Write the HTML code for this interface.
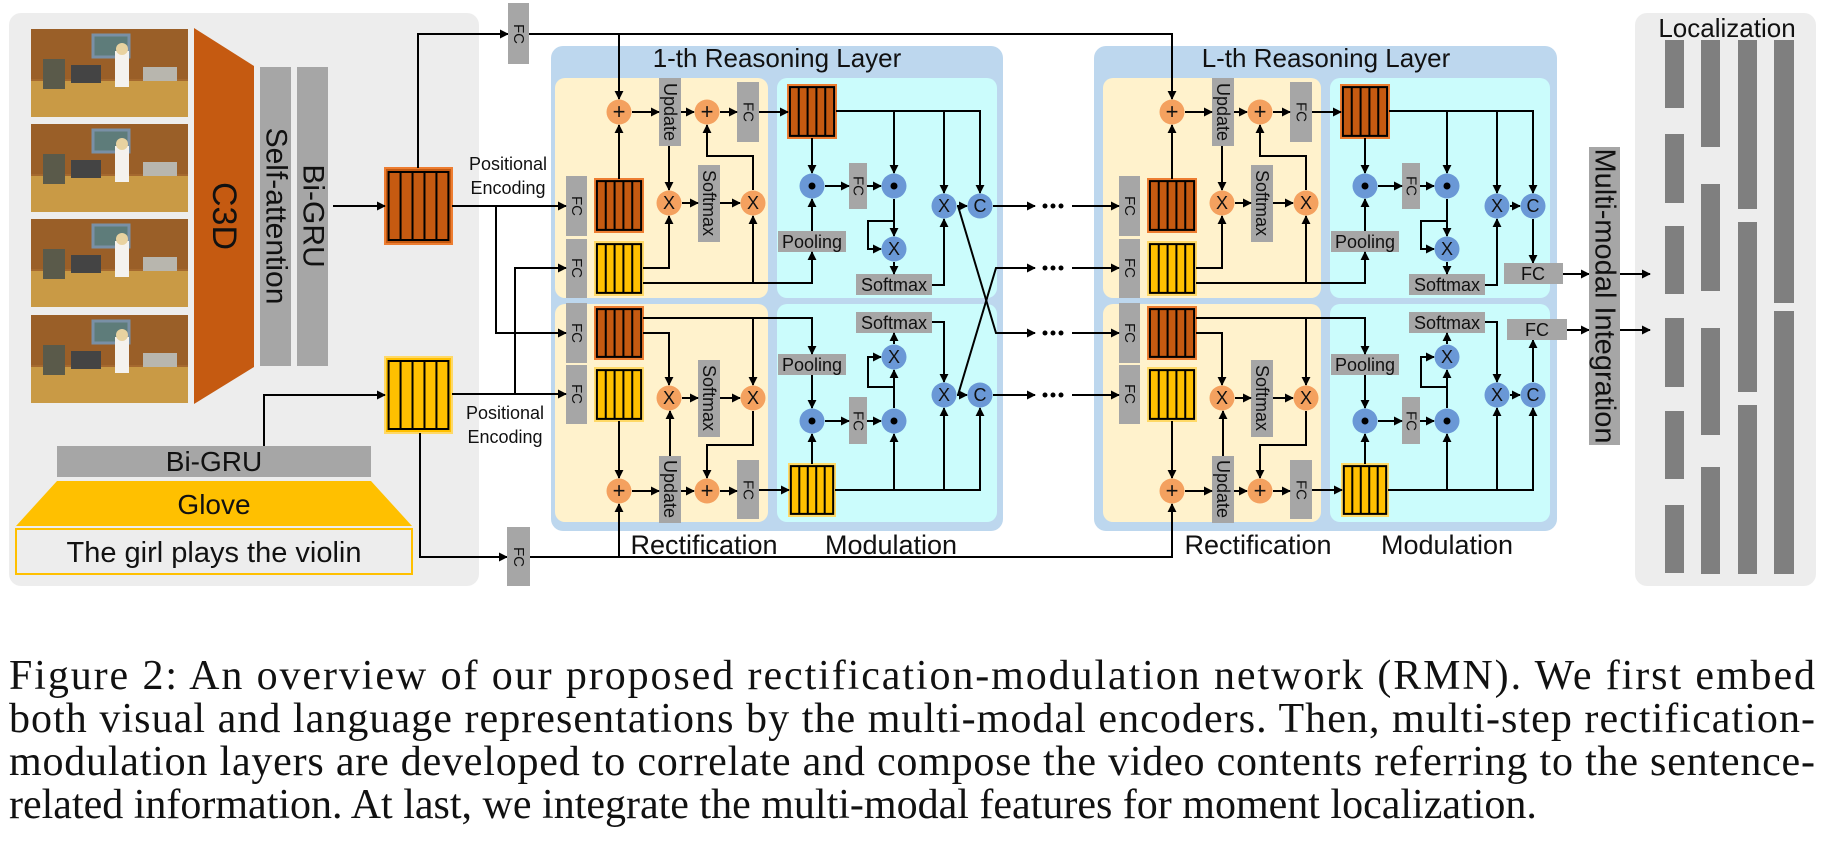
<!DOCTYPE html>
<html><head><meta charset="utf-8"><style>
html,body{margin:0;padding:0;background:#fff;}
svg{display:block;}
text{font-family:"Liberation Sans",sans-serif;fill:#111;}
.s{font-size:18px;}
.f{font-size:15px;}
.cap{font-family:"Liberation Serif",serif;font-size:42px;}
</style></head><body>
<svg width="1830" height="860" viewBox="0 0 1830 860" xmlns="http://www.w3.org/2000/svg">
<defs>
<marker id="a" viewBox="0 0 10 10" refX="9" refY="5" markerWidth="9" markerHeight="9" markerUnits="userSpaceOnUse" orient="auto"><path d="M0,0 L10,5 L0,10 z" fill="#000"/></marker>
<symbol id="fb" viewBox="0 0 50 50" preserveAspectRatio="none">
<rect x="2" y="2" width="46" height="46" fill="none" stroke="#000" stroke-width="2" vector-effect="non-scaling-stroke"/>
<path d="M11.2 2V48M20.4 2V48M29.6 2V48M38.8 2V48" stroke="#000" stroke-width="2" vector-effect="non-scaling-stroke"/>
</symbol>
<g id="frame">
<rect x="0" y="0" width="157" height="88" fill="#a5692f"/>
<rect x="0" y="0" width="157" height="50" fill="#9a5f28"/>
<rect x="0" y="52" width="157" height="36" fill="#c99a45"/>
<rect x="62" y="6" width="36" height="22" fill="#5e7c7a" stroke="#7990a6" stroke-width="3"/>
<rect x="12" y="30" width="22" height="30" fill="#5a5a4a"/>
<rect x="40" y="36" width="30" height="18" fill="#444"/>
<rect x="112" y="38" width="34" height="14" fill="#b8b6ae"/>
<rect x="84" y="22" width="14" height="36" fill="#f4f2ee"/>
<circle cx="91" cy="20" r="6" fill="#e8d2a0"/>
</g>
<g id="lay" fill="none" stroke="#000" stroke-width="2">
<rect x="595" y="179" width="48" height="53" fill="#c55a11" stroke="#ed7d31"/><use href="#fb" x="595" y="179" width="48" height="53"/>
<rect x="595" y="242" width="48" height="53" fill="#ffc000" stroke="#ffd966"/><use href="#fb" x="595" y="242" width="48" height="53"/>
<rect x="595" y="307" width="48" height="52" fill="#c55a11" stroke="#ed7d31"/><use href="#fb" x="595" y="307" width="48" height="52"/>
<rect x="595" y="368" width="48" height="53" fill="#ffc000" stroke="#ffd966"/><use href="#fb" x="595" y="368" width="48" height="53"/>
<rect x="788" y="85" width="48" height="53" fill="#c55a11" stroke="#ed7d31"/><use href="#fb" x="788" y="85" width="48" height="53"/>
<rect x="789" y="464" width="46" height="52" fill="#ffc000" stroke="#ffd966"/><use href="#fb" x="789" y="464" width="46" height="52"/>
<g fill="#a6a6a6" stroke="none">
<rect x="566" y="176" width="21" height="60"/><rect x="566" y="239" width="21" height="59"/>
<rect x="566" y="303" width="21" height="60"/><rect x="566" y="365" width="21" height="59"/>
<rect x="659" y="78" width="22" height="68"/><rect x="659" y="456" width="22" height="67"/>
<rect x="737" y="82" width="22" height="60"/><rect x="737" y="460" width="22" height="59"/>
<rect x="698" y="165" width="22" height="77"/><rect x="698" y="360" width="22" height="77"/>
<rect x="778" y="231" width="68" height="21"/><rect x="778" y="354" width="68" height="21"/>
<rect x="849" y="163" width="18" height="46"/><rect x="849" y="397" width="18" height="47"/>
<rect x="856" y="274" width="76" height="21"/><rect x="856" y="312" width="76" height="21"/>
</g>
<g marker-end="url(#a)">
<path d="M619 179V125"/><path d="M632 112H659"/><path d="M681 112H694"/><path d="M720 112H737"/><path d="M759 112H788"/>
<path d="M669 146V190"/><path d="M643 268H669V216"/><path d="M682 203H698"/><path d="M720 203H740"/>
<path d="M643 283H812V252"/><path d="M753 283V216"/><path d="M753 190V156H707V125"/>
<path d="M836 111H980V193"/><path d="M894 111V173"/><path d="M944 111V193"/>
<path d="M812 138V173"/><path d="M812 231V199"/><path d="M825 186H849"/><path d="M867 186H881"/>
<path d="M894 199V236"/><path d="M894 221H868V249H881"/><path d="M894 262V274"/><path d="M932 285H944V219"/><path d="M957 206H967"/>
<path d="M643 318H812V354"/><path d="M753 318V385"/><path d="M643 333H669V385"/>
<path d="M682 398H698"/><path d="M720 398H740"/><path d="M670 456V411"/><path d="M753 411V445H707V478"/>
<path d="M619 421V478"/><path d="M632 491H659"/><path d="M681 491H694"/><path d="M720 491H737"/><path d="M759 490H789"/>
<path d="M835 490H980V408"/><path d="M894 490V434"/><path d="M944 490V408"/>
<path d="M812 464V434"/><path d="M812 375V408"/><path d="M825 421H849"/><path d="M867 421H881"/>
<path d="M894 408V370"/><path d="M894 387H868V357H881"/><path d="M894 344V333"/><path d="M932 322H944V382"/><path d="M957 395H967"/>
</g>
<g stroke="none" fill="#f4a15f">
<circle cx="619" cy="112" r="12.5"/><circle cx="707" cy="112" r="12.5"/><circle cx="669" cy="203" r="12.5"/><circle cx="753" cy="203" r="12.5"/>
<circle cx="669" cy="398" r="12.5"/><circle cx="753" cy="398" r="12.5"/><circle cx="619" cy="491" r="12.5"/><circle cx="707" cy="491" r="12.5"/>
</g>
<g stroke="none" fill="#6a98d6">
<circle cx="812" cy="186" r="12.5"/><circle cx="894" cy="186" r="12.5"/><circle cx="894" cy="249" r="12.5"/><circle cx="944" cy="206" r="12.5"/><circle cx="980" cy="206" r="12.5"/>
<circle cx="812" cy="421" r="12.5"/><circle cx="894" cy="421" r="12.5"/><circle cx="894" cy="357" r="12.5"/><circle cx="944" cy="395" r="12.5"/><circle cx="980" cy="395" r="12.5"/>
</g>
<g stroke="none" fill="#000">
<circle cx="812" cy="186" r="3.5"/><circle cx="894" cy="186" r="3.5"/><circle cx="812" cy="421" r="3.5"/><circle cx="894" cy="421" r="3.5"/>
</g>
</g>
</defs>

<rect x="9" y="13" width="470" height="573" rx="12" fill="#ededed"/>
<use href="#frame" x="31" y="29"/><use href="#frame" x="31" y="124"/><use href="#frame" x="31" y="219"/><use href="#frame" x="31" y="315"/>
<polygon points="194,28 254,66 254,367 194,404" fill="#c55a11"/>
<rect x="260" y="67" width="31" height="299" fill="#a6a6a6"/>
<rect x="297" y="67" width="31" height="299" fill="#a6a6a6"/>
<text transform="translate(224,216) rotate(90)" text-anchor="middle" dominant-baseline="central" font-size="34">C3D</text>
<text transform="translate(276,216) rotate(90)" text-anchor="middle" dominant-baseline="central" font-size="30">Self-attention</text>
<text transform="translate(313,216) rotate(90)" text-anchor="middle" dominant-baseline="central" font-size="30">Bi-GRU</text>
<rect x="57" y="446" width="314" height="31" fill="#a6a6a6"/>
<text x="214" y="471" text-anchor="middle" font-size="28">Bi-GRU</text>
<polygon points="57,481 371,481 412,526 16,526" fill="#ffc000"/>
<text x="214" y="514" text-anchor="middle" font-size="28">Glove</text>
<rect x="16" y="529" width="396" height="45" fill="#ededed" stroke="#ffc000" stroke-width="2"/>
<text x="214" y="562" text-anchor="middle" font-size="29">The girl plays the violin</text>
<rect x="385" y="168" width="67" height="76" fill="#c55a11" stroke="#ed7d31" stroke-width="2"/><use href="#fb" x="386" y="169" width="65" height="74"/>
<rect x="385" y="357" width="67" height="76" fill="#ffc000" stroke="#ffd966" stroke-width="2"/><use href="#fb" x="386" y="358" width="65" height="74"/>

<rect x="551" y="46" width="452" height="485" rx="12" fill="#bdd7ee"/>
<rect x="555" y="78" width="213" height="220" rx="10" fill="#fff2cc"/>
<rect x="555" y="304" width="213" height="218" rx="10" fill="#fff2cc"/>
<rect x="777" y="78" width="220" height="220" rx="10" fill="#cbfcfc"/>
<rect x="777" y="304" width="220" height="218" rx="10" fill="#cbfcfc"/>
<rect x="1094" y="46" width="463" height="485" rx="12" fill="#bdd7ee"/>
<rect x="1103" y="78" width="218" height="220" rx="10" fill="#fff2cc"/>
<rect x="1103" y="304" width="218" height="218" rx="10" fill="#fff2cc"/>
<rect x="1330" y="78" width="220" height="220" rx="10" fill="#cbfcfc"/>
<rect x="1330" y="304" width="220" height="218" rx="10" fill="#cbfcfc"/>

<rect x="1635" y="13" width="181" height="573" rx="12" fill="#ededed"/>
<text x="1727" y="37" text-anchor="middle" font-size="26">Localization</text>
<g fill="#7f7f7f">
<rect x="1665" y="40" width="19" height="68"/><rect x="1665" y="134" width="19" height="69"/><rect x="1665" y="226" width="19" height="68"/><rect x="1665" y="318" width="19" height="69"/><rect x="1665" y="411" width="19" height="68"/><rect x="1665" y="505" width="19" height="68"/>
<rect x="1701" y="40" width="19" height="107"/><rect x="1701" y="184" width="19" height="107"/><rect x="1701" y="328" width="19" height="107"/><rect x="1701" y="467" width="19" height="107"/>
<rect x="1738" y="40" width="19" height="169"/><rect x="1738" y="222" width="19" height="170"/><rect x="1738" y="405" width="19" height="169"/>
<rect x="1774" y="40" width="20" height="263"/><rect x="1774" y="311" width="20" height="263"/>
</g>

<use href="#lay"/>
<use href="#lay" x="553"/>

<g fill="none" stroke="#000" stroke-width="2" marker-end="url(#a)">
<path d="M333 206H385"/>
<path d="M264 446V395H385"/>
<path d="M418 168V34H508"/>
<path d="M529 34H1172V99"/><path d="M619 34V99"/>
<path d="M420 433V557H507"/>
<path d="M530 557H1172V504"/><path d="M619 557V504"/>
<path d="M452 206H566"/><path d="M496 206V333H566"/>
<path d="M452 394H566"/><path d="M515 394V268H566"/>
<path d="M993 206H1035"/><path d="M1072 206H1119"/>
<path d="M958 206L996 333H1035"/><path d="M1072 333H1119"/>
<path d="M958 395L996 268H1035"/><path d="M1072 268H1119"/>
<path d="M993 395H1035"/><path d="M1072 395H1119"/>
<path d="M1533 219V263"/><path d="M1533 382V340"/>
<path d="M1563 274H1589"/><path d="M1567 330H1589"/>
<path d="M1620 274H1650"/><path d="M1620 330H1650"/>
</g>
<g fill="#000">
<circle cx="1045" cy="206" r="2.5"/><circle cx="1053" cy="206" r="2.5"/><circle cx="1061" cy="206" r="2.5"/>
<circle cx="1045" cy="268" r="2.5"/><circle cx="1053" cy="268" r="2.5"/><circle cx="1061" cy="268" r="2.5"/>
<circle cx="1045" cy="333" r="2.5"/><circle cx="1053" cy="333" r="2.5"/><circle cx="1061" cy="333" r="2.5"/>
<circle cx="1045" cy="395" r="2.5"/><circle cx="1053" cy="395" r="2.5"/><circle cx="1061" cy="395" r="2.5"/>
</g>
<rect x="508" y="3" width="21" height="61" fill="#a6a6a6"/>
<text class="f" transform="translate(518.5,34) rotate(90)" text-anchor="middle" dominant-baseline="central">FC</text>
<rect x="507" y="527" width="23" height="59" fill="#a6a6a6"/>
<text class="f" transform="translate(518.5,557) rotate(90)" text-anchor="middle" dominant-baseline="central">FC</text>
<rect x="1504" y="263" width="59" height="21" fill="#a6a6a6"/>
<text class="s" x="1533" y="280" text-anchor="middle">FC</text>
<rect x="1507" y="319" width="60" height="21" fill="#a6a6a6"/>
<text class="s" x="1537" y="336" text-anchor="middle">FC</text>
<rect x="1589" y="147" width="31" height="298" fill="#a6a6a6"/>
<text transform="translate(1604.5,296) rotate(90)" text-anchor="middle" dominant-baseline="central" font-size="29">Multi-modal Integration</text>

<text font-size="18" x="508" y="170" text-anchor="middle">Positional</text>
<text font-size="18" x="508" y="194" text-anchor="middle">Encoding</text>
<text font-size="18" x="505" y="419" text-anchor="middle">Positional</text>
<text font-size="18" x="505" y="443" text-anchor="middle">Encoding</text>

<text x="777" y="67" text-anchor="middle" font-size="26">1-th Reasoning Layer</text>
<text x="1326" y="67" text-anchor="middle" font-size="26">L-th Reasoning Layer</text>
<text x="704" y="554" text-anchor="middle" font-size="27">Rectification</text>
<text x="891" y="554" text-anchor="middle" font-size="27">Modulation</text>
<text x="1258" y="554" text-anchor="middle" font-size="27">Rectification</text>
<text x="1447" y="554" text-anchor="middle" font-size="27">Modulation</text>

<g>
<text class="f" transform="translate(576.5,206) rotate(90)" text-anchor="middle" dominant-baseline="central">FC</text>
<text class="f" transform="translate(576.5,268) rotate(90)" text-anchor="middle" dominant-baseline="central">FC</text>
<text class="f" transform="translate(576.5,333) rotate(90)" text-anchor="middle" dominant-baseline="central">FC</text>
<text class="f" transform="translate(576.5,394) rotate(90)" text-anchor="middle" dominant-baseline="central">FC</text>
<text class="s" transform="translate(670,112) rotate(90)" text-anchor="middle" dominant-baseline="central">Update</text>
<text class="s" transform="translate(670,489) rotate(90)" text-anchor="middle" dominant-baseline="central">Update</text>
<text class="f" transform="translate(748,112) rotate(90)" text-anchor="middle" dominant-baseline="central">FC</text>
<text class="f" transform="translate(748,490) rotate(90)" text-anchor="middle" dominant-baseline="central">FC</text>
<text class="s" transform="translate(709,203) rotate(90)" text-anchor="middle" dominant-baseline="central">Softmax</text>
<text class="s" transform="translate(709,398) rotate(90)" text-anchor="middle" dominant-baseline="central">Softmax</text>
<text class="s" x="812" y="248" text-anchor="middle">Pooling</text>
<text class="s" x="812" y="371" text-anchor="middle">Pooling</text>
<text class="f" transform="translate(858,186) rotate(90)" text-anchor="middle" dominant-baseline="central">FC</text>
<text class="f" transform="translate(858,421) rotate(90)" text-anchor="middle" dominant-baseline="central">FC</text>
<text class="s" x="894" y="291" text-anchor="middle">Softmax</text>
<text class="s" x="894" y="329" text-anchor="middle">Softmax</text>
<text x="619" y="119" text-anchor="middle" font-size="22">+</text><text x="707" y="119" text-anchor="middle" font-size="22">+</text>
<text x="619" y="498" text-anchor="middle" font-size="22">+</text><text x="707" y="498" text-anchor="middle" font-size="22">+</text>
<text x="669" y="209" text-anchor="middle" font-size="18">X</text><text x="753" y="209" text-anchor="middle" font-size="18">X</text>
<text x="669" y="404" text-anchor="middle" font-size="18">X</text><text x="753" y="404" text-anchor="middle" font-size="18">X</text>
<text x="894" y="255" text-anchor="middle" font-size="18">X</text><text x="944" y="212" text-anchor="middle" font-size="18">X</text><text x="980" y="212" text-anchor="middle" font-size="18">C</text>
<text x="894" y="363" text-anchor="middle" font-size="18">X</text><text x="944" y="401" text-anchor="middle" font-size="18">X</text><text x="980" y="401" text-anchor="middle" font-size="18">C</text>
</g>
<g transform="translate(553,0)">
<text class="f" transform="translate(576.5,206) rotate(90)" text-anchor="middle" dominant-baseline="central">FC</text>
<text class="f" transform="translate(576.5,268) rotate(90)" text-anchor="middle" dominant-baseline="central">FC</text>
<text class="f" transform="translate(576.5,333) rotate(90)" text-anchor="middle" dominant-baseline="central">FC</text>
<text class="f" transform="translate(576.5,394) rotate(90)" text-anchor="middle" dominant-baseline="central">FC</text>
<text class="s" transform="translate(670,112) rotate(90)" text-anchor="middle" dominant-baseline="central">Update</text>
<text class="s" transform="translate(670,489) rotate(90)" text-anchor="middle" dominant-baseline="central">Update</text>
<text class="f" transform="translate(748,112) rotate(90)" text-anchor="middle" dominant-baseline="central">FC</text>
<text class="f" transform="translate(748,490) rotate(90)" text-anchor="middle" dominant-baseline="central">FC</text>
<text class="s" transform="translate(709,203) rotate(90)" text-anchor="middle" dominant-baseline="central">Softmax</text>
<text class="s" transform="translate(709,398) rotate(90)" text-anchor="middle" dominant-baseline="central">Softmax</text>
<text class="s" x="812" y="248" text-anchor="middle">Pooling</text>
<text class="s" x="812" y="371" text-anchor="middle">Pooling</text>
<text class="f" transform="translate(858,186) rotate(90)" text-anchor="middle" dominant-baseline="central">FC</text>
<text class="f" transform="translate(858,421) rotate(90)" text-anchor="middle" dominant-baseline="central">FC</text>
<text class="s" x="894" y="291" text-anchor="middle">Softmax</text>
<text class="s" x="894" y="329" text-anchor="middle">Softmax</text>
<text x="619" y="119" text-anchor="middle" font-size="22">+</text><text x="707" y="119" text-anchor="middle" font-size="22">+</text>
<text x="619" y="498" text-anchor="middle" font-size="22">+</text><text x="707" y="498" text-anchor="middle" font-size="22">+</text>
<text x="669" y="209" text-anchor="middle" font-size="18">X</text><text x="753" y="209" text-anchor="middle" font-size="18">X</text>
<text x="669" y="404" text-anchor="middle" font-size="18">X</text><text x="753" y="404" text-anchor="middle" font-size="18">X</text>
<text x="894" y="255" text-anchor="middle" font-size="18">X</text><text x="944" y="212" text-anchor="middle" font-size="18">X</text><text x="980" y="212" text-anchor="middle" font-size="18">C</text>
<text x="894" y="363" text-anchor="middle" font-size="18">X</text><text x="944" y="401" text-anchor="middle" font-size="18">X</text><text x="980" y="401" text-anchor="middle" font-size="18">C</text>
</g>

<text class="cap" x="9" y="689" textLength="1806" lengthAdjust="spacing">Figure 2:  An overview of our proposed rectification-modulation network (RMN). We first embed</text>
<text class="cap" x="9" y="732" textLength="1806" lengthAdjust="spacing">both visual and language representations by the multi-modal encoders.  Then, multi-step rectification-</text>
<text class="cap" x="9" y="775" textLength="1806" lengthAdjust="spacing">modulation layers are developed to correlate and compose the video contents referring to the sentence-</text>
<text class="cap" x="9" y="818">related information. At last, we integrate the multi-modal features for moment localization.</text>
</svg>
</body></html>
